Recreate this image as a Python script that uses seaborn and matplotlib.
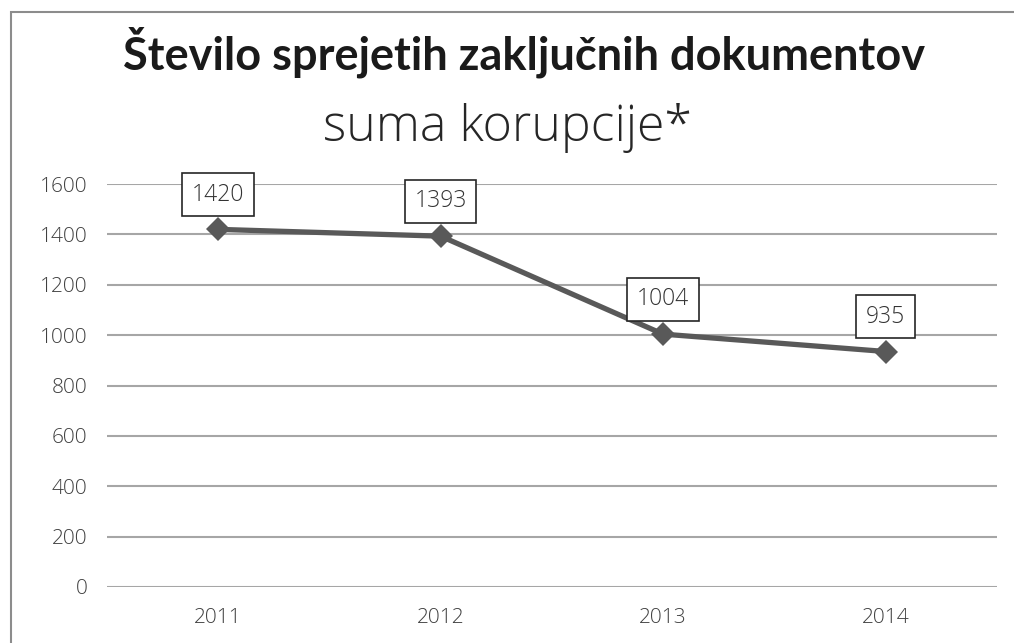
import pandas as pd
import seaborn as sns
import matplotlib.pyplot as plt
from matplotlib.patches import Rectangle

years = ['2011', '2012', '2013', '2014']
documents = [1420, 1393, 1004, 935]
y_ticks = [0, 200, 400, 600, 800, 1000, 1200, 1400, 1600]

df = pd.DataFrame({'year': years, 'documents': documents})

sns.set_style('white')
plt.rcParams['font.family'] = ['Open Sans', 'DejaVu Sans']
plt.rcParams['font.weight'] = 300

fig = plt.figure(figsize=(10.14, 6.43), dpi=100)
ax = fig.add_axes([0.1055, 0.0871, 0.8775, 0.6267])

sns.lineplot(data=df, x='year', y='documents', ax=ax, color='#595959',
             linewidth=3.8, marker='D', markersize=12, markeredgewidth=0,
             sort=False)

for i, v in enumerate(documents):
    ax.annotate(str(v), (i, v), xytext=(0, 25), textcoords='offset points',
                ha='center', va='center', fontsize=16.5, color='#333333',
                fontweight=300,
                bbox=dict(boxstyle='square,pad=0.42', fc='white', ec='#262626', lw=1.2))

ax.set_xlim(-0.5, 3.5)
ax.set_ylim(0, 1600)
ax.set_yticks(y_ticks)
ax.yaxis.grid(True, color='#a6a6a6', linewidth=1.5)
ax.set_axisbelow(True)
for s in ax.spines.values():
    s.set_visible(False)
ax.tick_params(axis='both', length=0, labelsize=15, labelcolor='#404040')
ax.tick_params(axis='y', pad=14)
ax.tick_params(axis='x', pad=15)
for lbl in ax.get_xticklabels() + ax.get_yticklabels():
    lbl.set_fontweight(300)
ax.set_xlabel('')
ax.set_ylabel('')

fig.text(0.517, 1 - 52 / 643, 'Število sprejetih zaključnih dokumentov', ha='center',
         va='center', fontsize=32.5, fontweight='bold', color='#1a1a1a',
         family=['Lato', 'DejaVu Sans'])
fig.text(0.5, 1 - 128 / 643, 'suma korupcije*', ha='center', va='center',
         fontsize=36, color='#262626', fontweight=300)

fig.patches.append(Rectangle((11 / 1014, -0.1), 1.2, 1.1 - 12 / 643,
                             transform=fig.transFigure, fill=False,
                             ec='#8c8c8c', lw=1.5))

fig.savefig('out.png', dpi=100)
